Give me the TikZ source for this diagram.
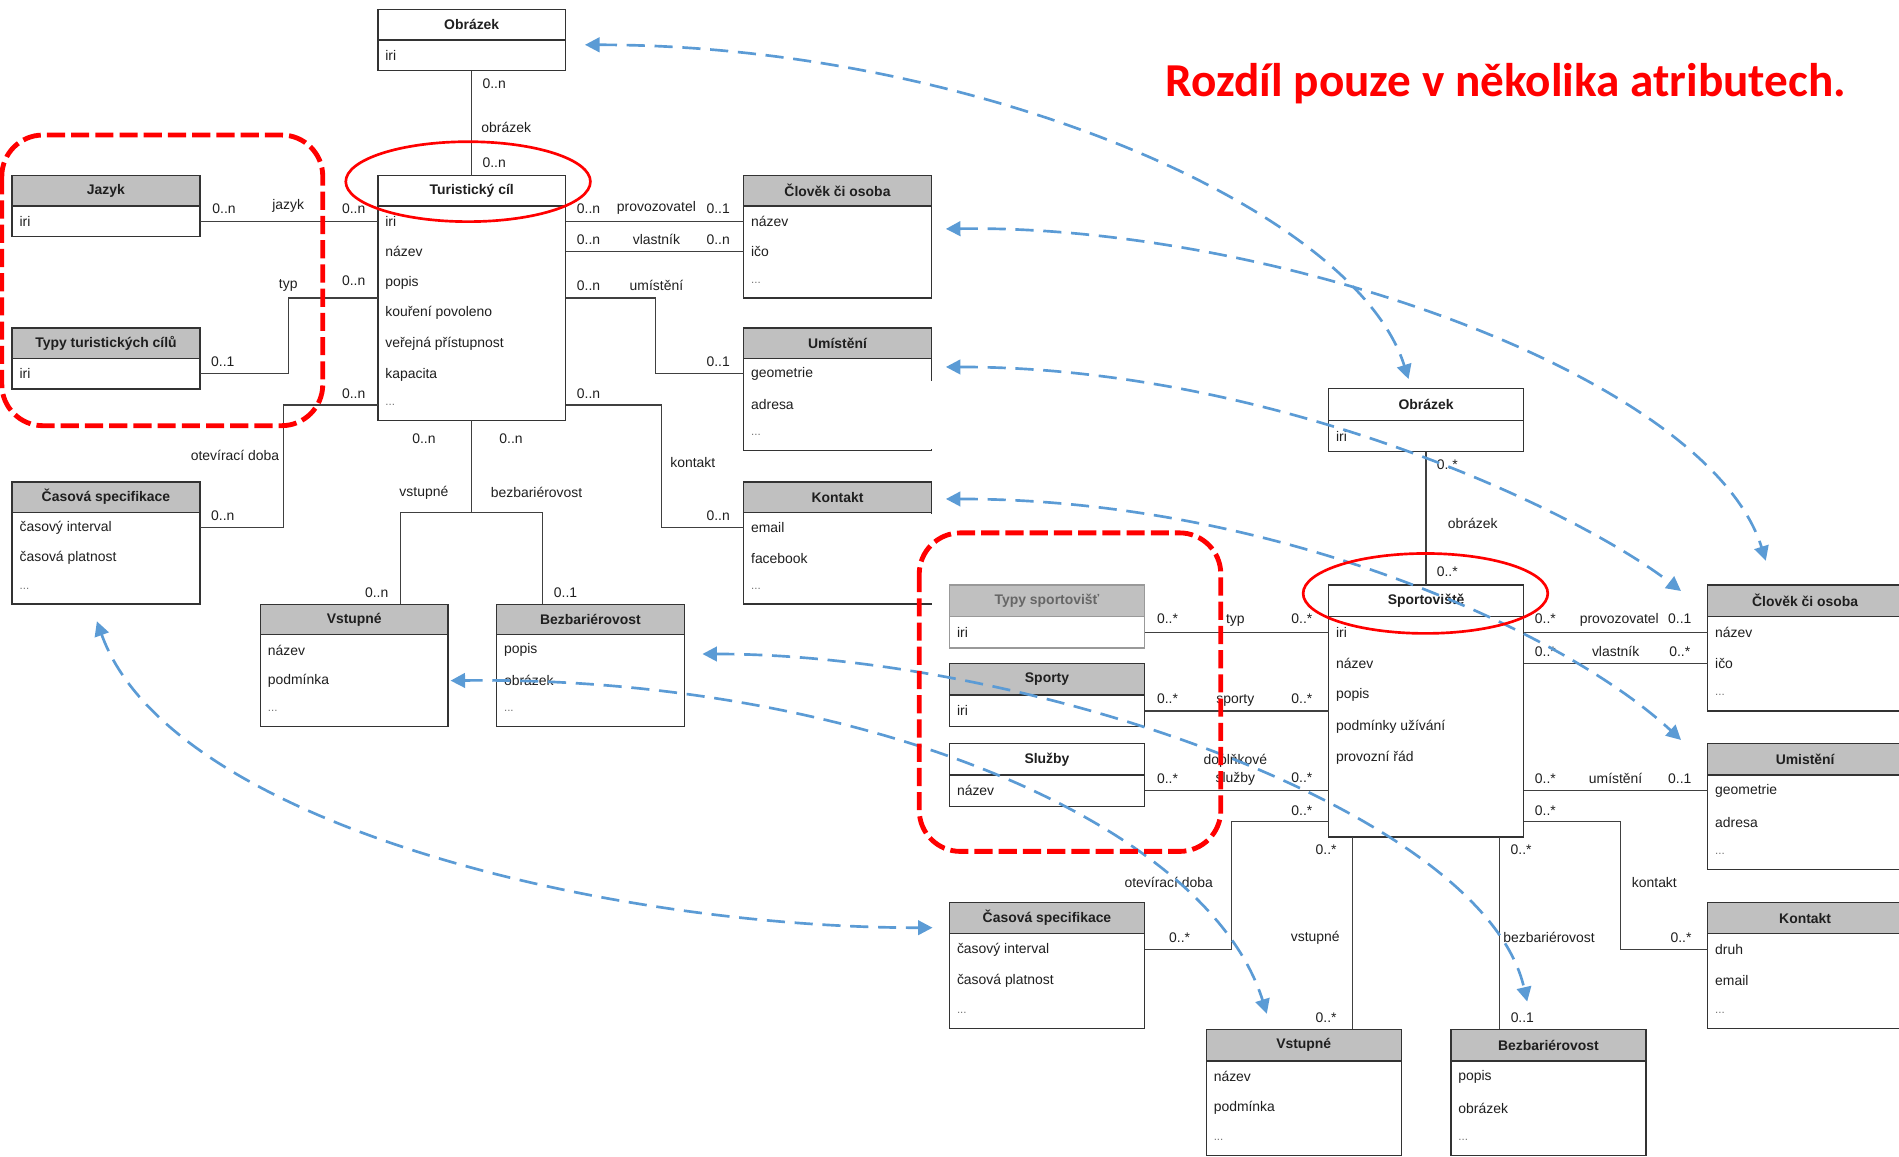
\documentclass[tikz,border=0pt]{standalone}
\usepackage{fontspec}
\setmainfont{Liberation Sans}
\newfontfamily\titlefont{Carlito}
\usetikzlibrary{arrows.meta,shapes.geometric}

\definecolor{hdrgray}{HTML}{C0C0C0}
\definecolor{linkblue}{HTML}{5B9BD5}
\definecolor{markred}{HTML}{FF0000}
\newcommand\ufont{\fontsize{11.5}{13}\selectfont}
\newcommand\moreattr{{\color{black!55}\fontsize{9.5}{10}\selectfont...}}

\tikzset{
  box/.style={draw=black!80, line width=1.2pt, inner sep=0pt, outer sep=0pt, text=black!88, font=\ufont},
  headwhite/.style={box, fill=white, font=\ufont\bfseries},
  headgray/.style={box, fill=hdrgray, font=\ufont\bfseries},
  headpale/.style={headgray, draw=black!40, text=black!60},
  boxbody/.style={box, fill=white},
  attr/.style={anchor=west, inner sep=0pt, font=\ufont, text=black!88},
  lbl/.style={inner sep=0pt, font=\ufont, text=black!88},
  conn/.style={draw=black!75, line width=1pt},
  twin/.style={draw=linkblue, line width=2.2pt, dash pattern=on 15pt off 8pt, <->, >={Triangle[length=12pt,width=12pt]}},
  redmark/.style={draw=markred, line width=2.2pt, ellipse, minimum width=202pt, minimum height=66pt},
  redzone/.style={draw=markred, line width=4pt, dash pattern=on 15pt off 5pt, rounded corners=34pt}
}

% class box: name, left, top, title, head style, attributes, rows
\newcommand\umlbox[7]{%
  \node[#5, minimum width=\boxw pt, minimum height=\headh pt] (#1) at ({#2+\boxw/2},{#3+\headh/2}) {#4};
  \node[boxbody, minimum width=\boxw pt, minimum height={#7*\rowh*1pt}] (#1-b) at ({#2+\boxw/2},{#3+\headh+#7*\rowh/2}) {};
  \foreach \entry [count=\i] in {#6}
    \node[attr] (#1-\i) at ({#2+6},{#3+\headh+(\i-0.5)*\rowh}) {\entry};
}

\begin{document}
\begin{tikzpicture}[x=1pt, y=-1pt]
  \useasboundingbox (0,0) rectangle (1568,955);
  \clip (0,0) rectangle (1568,955);

  % tourist destination model
  \def\boxw{155}\def\headh{25}\def\rowh{25.3}
  \umlbox{obrL}{312}{8}{Obrázek}{headwhite}{iri}{1}
  \umlbox{tc}{312}{145}{Turistický cíl}{headwhite}{iri,název,popis,kouření povoleno,veřejná přístupnost,kapacita,\moreattr}{7}
  \umlbox{jaz}{10}{145}{Jazyk}{headgray}{iri}{1}
  \umlbox{typ}{10}{271}{Typy turistických cílů}{headgray}{iri}{1}
  \umlbox{casL}{10}{398}{Časová specifikace}{headgray}{časový interval,časová platnost,\moreattr}{3}
  \umlbox{vstL}{215}{499}{Vstupné}{headgray}{název,podmínka,\moreattr}{3}
  \umlbox{bezL}{410}{499}{Bezbariérovost}{headgray}{popis,obrázek,\moreattr}{3}
  \umlbox{clL}{614}{145}{Člověk či osoba}{headgray}{název,ičo,\moreattr}{3}
  \umlbox{umL}{614}{271}{Umístění}{headgray}{geometrie,adresa,\moreattr}{3}
  \umlbox{koL}{614}{398}{Kontakt}{headgray}{email,facebook,\moreattr}{3}
  \fill[white] (768.3,315) rectangle (770.5,371);
  \fill[white] (768.3,424.5) rectangle (770.5,498);

  \draw[conn] (obrL-b.south) -- (tc.north);
  \draw[conn] (jaz-1 -| jaz.east) -- (tc-1 -| tc.west);
  \draw[conn] (tc.west |- 0,246) -| (typ-1 -| 238,0) -- (typ-1 -| typ.east);
  \draw[conn] (tc-7 -| tc.west) -| (casL-1 -| 234,0) -- (casL-1 -| casL.east);
  \draw[conn] (tc-b.south) -- (tc-b.south |- 0,423);
  \draw[conn] (vstL.north -| 331,0) |- (448,423) -- (bezL.north -| 448,0);
  \draw[conn] (tc-1 -| tc.east) -- (clL-1 -| clL.west);
  \draw[conn] (tc-2 -| tc.east) -- (clL-2 -| clL.west);
  \draw[conn] (tc.east |- 0,246) -| (umL-1 -| 541,0) -- (umL-1 -| umL.west);
  \draw[conn] (tc-7 -| tc.east) -| (koL-1 -| 546,0) -- (koL-1 -| koL.west);

  \foreach \x/\y/\txt [count=\k] in {
      408/69/0..n, 418/105/obrázek, 408/134/0..n,
      185/172/0..n, 238/170/jazyk, 292/172/0..n,
      238/236/typ, 292/232/0..n, 184/299/0..1,
      292/325/0..n, 194/376/otevírací doba, 184/426/0..n,
      350/362/0..n, 422/362/0..n, 350/407/vstupné, 443/407/bezbariérovost,
      311/489/0..n, 467/489/0..1,
      486/172/0..n, 542/172/provozovatel, 593/172/0..1,
      486/198/0..n, 542/198/vlastník, 593/198/0..n,
      486/236/0..n, 542/236/umístění, 593/299/0..1,
      486/325/0..n, 572/382/kontakt, 593/426/0..n}
    \node[lbl] (ml\k) at (\x,\y) {\txt};

  % sports ground model
  \def\boxw{161}\def\headh{26}\def\rowh{26}
  \umlbox{obrR}{1097}{321}{Obrázek}{headwhite}{iri}{1}
  \umlbox{sp}{1097}{483}{Sportoviště}{headwhite}{iri,název,popis,podmínky užívání,provozní řád,{},{}}{7}
  \begin{scope}[boxbody/.append style={draw=black!40}]
    \umlbox{tys}{784}{483}{Typy sportovišť}{headpale}{iri}{1}
  \end{scope}
  \umlbox{spo}{784}{548}{Sporty}{headgray}{iri}{1}
  \umlbox{slu}{784}{614}{Služby}{headwhite}{název}{1}
  \umlbox{casR}{784}{745}{Časová specifikace}{headgray}{časový interval,časová platnost,\moreattr}{3}
  \umlbox{vstR}{996}{850}{Vstupné}{headgray}{název,podmínka,\moreattr}{3}
  \umlbox{bezR}{1198}{850}{Bezbariérovost}{headgray}{popis,obrázek,\moreattr}{3}
  \umlbox{clR}{1410}{483}{Člověk či osoba}{headgray}{název,ičo,\moreattr}{3}
  \umlbox{umR}{1410}{614}{Umistění}{headgray}{geometrie,adresa,\moreattr}{3}
  \umlbox{koR}{1410}{745}{Kontakt}{headgray}{druh,email,\moreattr}{3}

  \draw[conn] (obrR-b.south) -- (sp.north);
  \draw[conn] (tys-1 -| tys.east) -- (sp-1 -| sp.west);
  \draw[conn] (spo-1 -| spo.east) -- (sp.west |- spo-1);
  \draw[conn] (slu-1 -| slu.east) -- (sp.west |- slu-1);
  \draw[conn] (sp-7 -| sp.west) -| (casR-1 -| 1017,0) -- (casR-1 -| casR.east);
  \draw[conn] (sp-b.south -| 1117,0) -- (vstR.north -| 1117,0);
  \draw[conn] (sp-b.south -| 1238,0) -- (bezR.north -| 1238,0);
  \draw[conn] (sp-1 -| sp.east) -- (clR-1 -| clR.west);
  \draw[conn] (sp-2 -| sp.east) -- (clR-2 -| clR.west);
  \draw[conn] (sp.east |- umR-1) -- (umR-1 -| umR.west);
  \draw[conn] (sp-7 -| sp.east) -| (koR-1 -| 1338,0) -- (koR-1 -| koR.west);

  \foreach \x/\y/\txt [count=\k] in {
      1195/384/0..*, 1216/432/obrázek, 1195/472/0..*,
      964/511/0..*, 1020/512/typ, 1075/511/0..*,
      964/577/0..*, 1020/578/sporty, 1075/577/0..*,
      1020/628/doplňkové, 964/643/0..*, 1020/643/služby, 1075/642/0..*,
      1075/669/0..*, 965/729/otevírací doba, 974/774/0..*,
      1095/702/0..*, 1086/774/vstupné, 1095/840/0..*,
      1256/702/0..*, 1279/774/bezbariérovost, 1257/840/0..1,
      1276/511/0..*, 1337/512/provozovatel, 1387/511/0..1,
      1276/538/0..*, 1334/538/vlastník, 1387/538/0..*,
      1276/643/0..*, 1334/643/umístění, 1387/643/0..1,
      1276/669/0..*, 1366/729/kontakt, 1388/774/0..*}
    \node[lbl] (mr\k) at (\x,\y) {\txt};

  % same classes in both models
  \coordinate (obrL-tip) at (483,37);  \coordinate (obrR-tip) at (1163,313);
  \coordinate (clL-tip) at (781,189);  \coordinate (clR-tip) at (1458,463);
  \coordinate (umL-tip) at (781,303);  \coordinate (umR-tip) at (1388,488);
  \coordinate (koL-tip) at (781,412);  \coordinate (koR-tip) at (1388,611);
  \coordinate (bezL-tip) at (580,540); \coordinate (bezR-tip) at (1261,827);
  \coordinate (vstL-tip) at (372,562); \coordinate (vstR-tip) at (1046,837);
  \coordinate (casL-tip) at (80,513);  \coordinate (casR-tip) at (770,766);
  \draw[twin] (obrL-tip) .. controls (800,37) and (1118,170) .. (obrR-tip);
  \draw[twin] (clL-tip) .. controls (1050,185) and (1410,310) .. (clR-tip);
  \draw[twin] (umL-tip) .. controls (1050,303) and (1300,420) .. (umR-tip);
  \draw[twin] (koL-tip) .. controls (1050,412) and (1290,520) .. (koR-tip);
  \draw[twin] (bezL-tip) .. controls (850,540) and (1225,670) .. (bezR-tip);
  \draw[twin] (vstL-tip) .. controls (700,558) and (995,675) .. (vstR-tip);
  \draw[twin] (casL-tip) .. controls (140,680) and (500,766) .. (casR-tip);

  % highlights
  \node[redmark] (tc-mark) at (386.5,150) {};
  \node[redmark] (sp-mark) at (1177,490) {};
  \draw[redzone] (1.5,111.5) rectangle (266.5,351.5);
  \draw[redzone] (759,440) rectangle (1008,703);
  \node[anchor=base, text=markred, font=\titlefont\bfseries\fontsize{39}{44}\selectfont] (title) at (1243.5,80) {Rozdíl pouze v několika atributech.};
\end{tikzpicture}
\end{document}
